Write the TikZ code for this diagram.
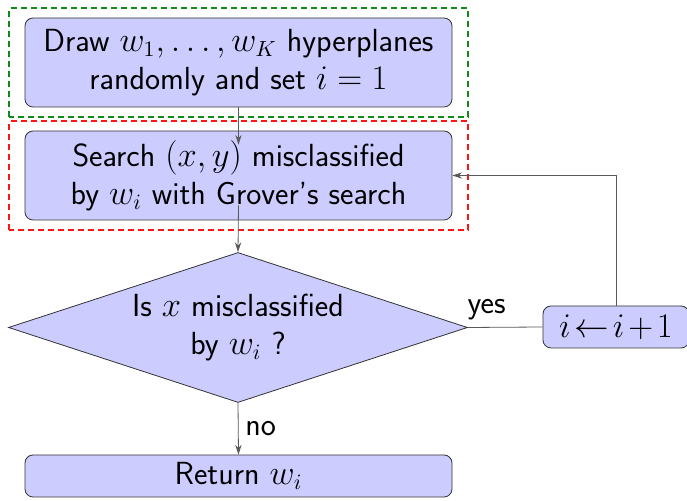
\documentclass[tikz,border=0pt]{standalone}
\usepackage{amsmath,amssymb}
\usepackage{xcolor}
\usepackage{tikz}
\usetikzlibrary{arrows.meta,positioning,shapes.geometric,fit}
\definecolor{boxfill}{HTML}{CCCCFF}
\definecolor{greenx}{rgb}{0.07,0.54,0.10}
\definecolor{redx}{rgb}{1,0.08,0.08}
\tikzset{
  ar/.style={-{Stealth[length=1.7mm,width=1.1mm]},draw=black!65},
  box/.style={draw=black!80,rounded corners=4pt,fill=boxfill,align=center,minimum width=213.5pt},
  dec/.style={diamond,draw=black!80,fill=boxfill,align=center,aspect=3,minimum width=229.5pt,minimum height=75pt,inner sep=0pt},
  grp/.style={inner xsep=7.5pt,inner ysep=4.5pt},
  grpline/.style={line width=0.8pt,dash pattern=on 3pt off 2pt}
}

\begin{document}
\begin{tikzpicture}[x=0.5pt,y=-0.5pt,font=\sffamily\fontsize{16}{19}\selectfont]
\useasboundingbox (0,0) rectangle (687,501);
% blocks
\node[box,minimum height=44.5pt] (init) at (238.5,62.5) {Draw $w_1,\ldots,w_K$ hyperplanes\\randomly and set $i=1$};
\node[box,minimum height=44.5pt] (search) at (238.5,175.5) {Search $(x,y)$ misclassified\\by $w_i$ with Grover's search};
\node[dec] (test) at (238,327.5) {Is $x$ misclassified\\by $w_i$ ?};
\node[box,minimum height=21pt] (ret) at (238.5,476) {Return $w_i$};
\node[box,minimum width=73pt,minimum height=21pt] (incr) at (616,327) {$i\mkern2mu{\leftarrow}\mkern2mu i\mkern2mu{+}\mkern2mu 1$};
% dashed groups
\node[grp,fit=(init)] (classic) {};
\node[grp,fit=(search)] (quantum) {};
\draw[grpline,draw=greenx] (classic.south west) rectangle (classic.north east);
\draw[grpline,draw=redx] (quantum.south west) rectangle (quantum.north east);
% connectors
\draw[ar] (init.south) -- ([yshift=-7pt]search.north);
\draw[ar] ([yshift=7.5pt]search.south) -- (test.north);
\draw[ar] (test.south) -- node[right] {no} (ret.north);
\draw[draw=black!65] (test.east) -- node[above,pos=0.25] {yes} (incr.west);
\draw[ar] (incr.north) |- (search.east);
\end{tikzpicture}
\end{document}
